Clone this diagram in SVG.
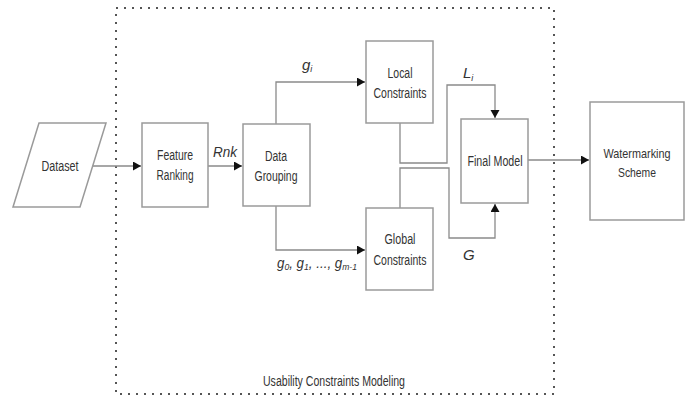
<svg xmlns="http://www.w3.org/2000/svg" width="687" height="399" viewBox="0 0 687 399">
<style>
.box{fill:#fff;stroke:#9a9a9a;stroke-width:1.5}
.ln{fill:none;stroke:#8a8a8a;stroke-width:1.3}
.t{font-family:"Liberation Sans Narrow","Liberation Sans",Arial,sans-serif;font-size:14px;fill:#333;text-anchor:middle}
.lb{font-family:"Liberation Sans",Arial,sans-serif;font-size:15px;font-style:italic;fill:#333}
.sub{font-size:9px}
.dot{fill:none;stroke:#555;stroke-width:2;stroke-dasharray:2 6}
</style>
<defs>
<marker id="ah" markerUnits="userSpaceOnUse" markerWidth="9" markerHeight="10" refX="8" refY="4.5" orient="auto">
<path d="M0,0 L8,4.5 L0,9 z" fill="#111"/>
</marker>
</defs>
<rect width="687" height="399" fill="#fff"/>
<g id="container">
<rect class="dot" x="116" y="8" width="438" height="386"/>
<text class="t" x="334" y="386" textLength="142" lengthAdjust="spacingAndGlyphs">Usability Constraints Modeling</text>
</g>
<g id="connectors">
<path class="ln" d="M93,166 H141" marker-end="url(#ah)"/>
<path class="ln" d="M208,166 H242" marker-end="url(#ah)"/>
<path class="ln" d="M276,124 V82 H365" marker-end="url(#ah)"/>
<path class="ln" d="M276,206 V250 H365" marker-end="url(#ah)"/>
<path class="ln" d="M400,123 V163 H447 V85 H495 V118" marker-end="url(#ah)"/>
<path class="ln" d="M400,208 V168 H449 V238 H495 V204" marker-end="url(#ah)"/>
<path class="ln" d="M528,160 H589" marker-end="url(#ah)"/>
<text class="lb" x="213" y="157" textLength="24" lengthAdjust="spacingAndGlyphs">Rnk</text>
<text class="lb" x="302" y="70">g<tspan class="sub" dy="2">i</tspan></text>
<text class="lb" x="463" y="78">L<tspan class="sub" dy="3">i</tspan></text>
<text class="lb" x="463" y="260">G</text>
<text class="lb" x="277" y="268" style="font-size:14px" textLength="80" lengthAdjust="spacingAndGlyphs">g<tspan class="sub" dy="2">0</tspan><tspan dy="-2">, g</tspan><tspan class="sub" dy="2">1</tspan><tspan dy="-2">, ..., g</tspan><tspan class="sub" dy="2">m-1</tspan></text>
</g>
<g id="dataset">
<polygon class="box" points="39,123 106,123 80,207 13,207"/>
<text class="t" x="60" y="171" textLength="37" lengthAdjust="spacingAndGlyphs">Dataset</text>
</g>
<g id="feature-ranking">
<rect class="box" x="142" y="123" width="66" height="84"/>
<text class="t" x="175" y="160" textLength="36" lengthAdjust="spacingAndGlyphs">Feature</text>
<text class="t" x="175" y="180" textLength="37" lengthAdjust="spacingAndGlyphs">Ranking</text>
</g>
<g id="data-grouping">
<rect class="box" x="243" y="124" width="67" height="82"/>
<text class="t" x="276" y="161" textLength="22" lengthAdjust="spacingAndGlyphs">Data</text>
<text class="t" x="276" y="181" textLength="43" lengthAdjust="spacingAndGlyphs">Grouping</text>
</g>
<g id="local-constraints">
<rect class="box" x="366" y="41" width="67" height="82"/>
<text class="t" x="400" y="78" textLength="25" lengthAdjust="spacingAndGlyphs">Local</text>
<text class="t" x="400" y="98" textLength="53" lengthAdjust="spacingAndGlyphs">Constraints</text>
</g>
<g id="global-constraints">
<rect class="box" x="366" y="208" width="67" height="82"/>
<text class="t" x="400" y="244" textLength="31" lengthAdjust="spacingAndGlyphs">Global</text>
<text class="t" x="400" y="265" textLength="53" lengthAdjust="spacingAndGlyphs">Constraints</text>
</g>
<g id="final-model">
<rect class="box" x="461" y="119" width="67" height="84"/>
<text class="t" x="495" y="166" textLength="55" lengthAdjust="spacingAndGlyphs">Final Model</text>
</g>
<g id="watermarking-scheme">
<rect class="box" x="590" y="102" width="94" height="118"/>
<text class="t" x="637" y="158" style="font-size:13px" textLength="67" lengthAdjust="spacingAndGlyphs">Watermarking</text>
<text class="t" x="637" y="177" style="font-size:13px" textLength="38" lengthAdjust="spacingAndGlyphs">Scheme</text>
</g>
</svg>
